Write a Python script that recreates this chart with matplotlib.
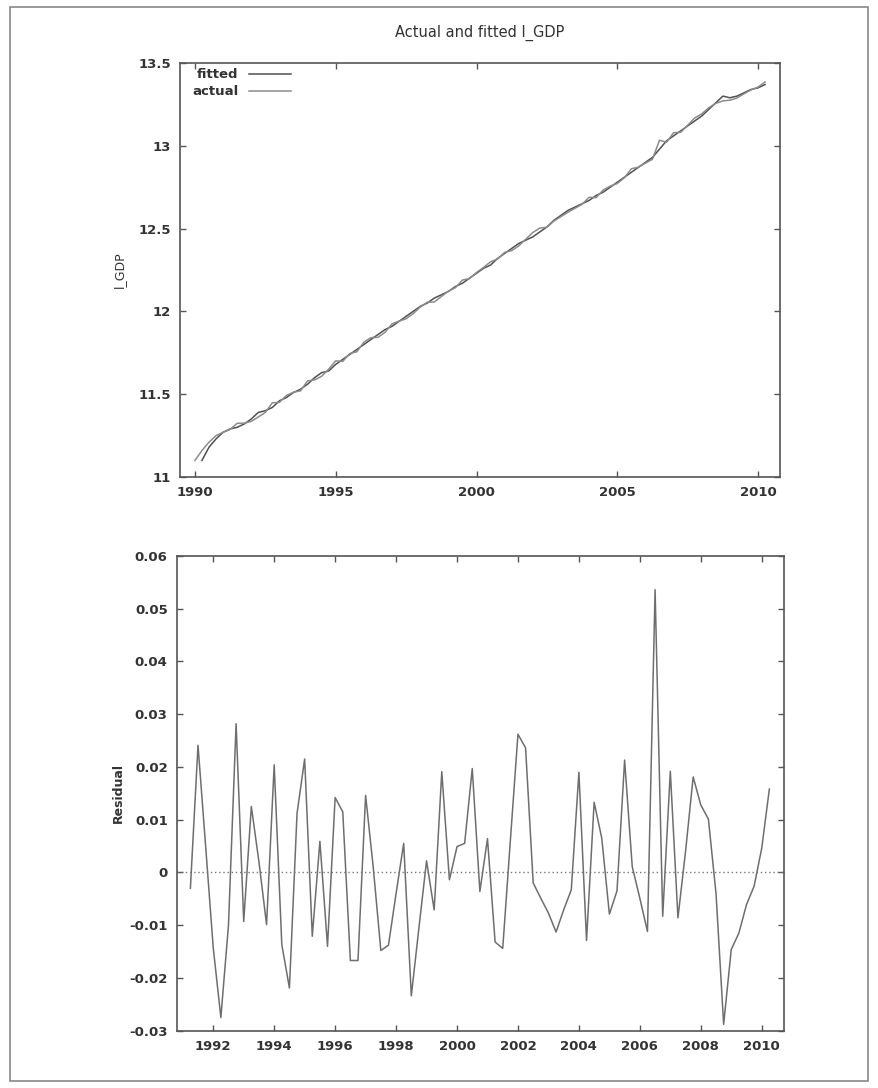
import numpy as np
import matplotlib.pyplot as plt
from matplotlib.patches import Rectangle
from matplotlib.ticker import FuncFormatter

# log GDP before the estimation sample, 1990:1 - 1991:1
actual_early = [11.10, 11.16, 11.21, 11.25, 11.27]
actual_early_start = 1990.0

# fitted values before the estimation sample, 1990:2 - 1991:1
fitted_early = [11.10, 11.18, 11.23, 11.27]
fitted_early_start = 1990.25

# fitted l_GDP over the estimation sample, 1991:2 - 2010:2
fitted_main = [
    11.29, 11.30, 11.32,
    11.35, 11.39, 11.40, 11.42,
    11.46, 11.48, 11.51, 11.53,
    11.56, 11.60, 11.63, 11.64,
    11.68, 11.71, 11.74, 11.77,
    11.80, 11.83, 11.86, 11.89,
    11.91, 11.94, 11.97, 12.00,
    12.03, 12.05, 12.08, 12.10,
    12.12, 12.15, 12.17, 12.20,
    12.23, 12.26, 12.28, 12.32,
    12.35, 12.38, 12.41, 12.43,
    12.45, 12.48, 12.51, 12.55,
    12.58, 12.61, 12.63, 12.65,
    12.67, 12.70, 12.72, 12.75,
    12.78, 12.81, 12.84, 12.87,
    12.90, 12.93, 12.98, 13.03,
    13.06, 13.09, 13.12, 13.15,
    13.18, 13.22, 13.26, 13.30,
    13.29, 13.30, 13.32, 13.34,
    13.35, 13.37,
]

# regression residuals, 1991:2 - 2010:2
residual = [
    -0.0030, 0.0241, 0.0050,
    -0.0143, -0.0275, -0.0100, 0.0282,
    -0.0093, 0.0125, 0.0020, -0.0099,
    0.0204, -0.0137, -0.0219, 0.0112,
    0.0215, -0.0121, 0.0059, -0.0140,
    0.0142, 0.0115, -0.0167, -0.0167,
    0.0146, 0.0010, -0.0148, -0.0138,
    -0.0040, 0.0055, -0.0234, -0.0105,
    0.0022, -0.0071, 0.0191, -0.0014,
    0.0049, 0.0055, 0.0197, -0.0036,
    0.0064, -0.0132, -0.0144, 0.0060,
    0.0262, 0.0236, -0.0020, -0.0049,
    -0.0077, -0.0113, -0.0071, -0.0033,
    0.0190, -0.0129, 0.0133, 0.0065,
    -0.0079, -0.0035, 0.0213, 0.0011,
    -0.0049, -0.0112, 0.0536, -0.0083,
    0.0192, -0.0086, 0.0040, 0.0181,
    0.0128, 0.0101, -0.0040, -0.0288,
    -0.0146, -0.0115, -0.0061, -0.0026,
    0.0046, 0.0158,
]
residual_start = 1991.25

t_resid = residual_start + np.arange(len(residual)) / 4
t_act_early = actual_early_start + np.arange(len(actual_early)) / 4
t_fit_early = fitted_early_start + np.arange(len(fitted_early)) / 4

# actual = fitted + residual inside the sample
actual_main = np.array(fitted_main) + np.array(residual)
t_actual = np.concatenate([t_act_early, t_resid])
actual = np.concatenate([actual_early, actual_main])
t_fitted = np.concatenate([t_fit_early, t_resid])
fitted = np.concatenate([fitted_early, fitted_main])

plt.rcParams['font.family'] = 'DejaVu Sans'
edge = '#555555'
text_c = '#333333'
tick_fs = 9.5

fig = plt.figure(figsize=(8.79, 10.88), dpi=100)
fig.patches.append(Rectangle((0.011, 0.006), 0.977, 0.988, transform=fig.transFigure,
                             fill=False, edgecolor='#888888', linewidth=1.2))


def style_axes(ax):
    for s in ax.spines.values():
        s.set_color(edge)
        s.set_linewidth(1.2)
    ax.tick_params(direction='in', length=4, width=1, color=edge,
                   top=True, right=True, labelsize=tick_fs, pad=6.5)
    for lab in ax.get_xticklabels() + ax.get_yticklabels():
        lab.set_fontweight('bold')
        lab.set_color(text_c)


# upper panel: actual and fitted
ax1 = fig.add_axes([0.2048, 0.5616, 0.6826, 0.3805])
ax1.plot(t_fitted, fitted, color='#505050', linewidth=1.1, label='fitted')
ax1.plot(t_actual, actual, color='#8c8c8c', linewidth=1.1, label='actual')
ax1.set_xlim(1989.47, 2010.78)
ax1.set_ylim(11, 13.5)
ax1.set_xticks([1990, 1995, 2000, 2005, 2010])
ax1.set_yticks([11, 11.5, 12, 12.5, 13, 13.5])
ax1.yaxis.set_major_formatter(FuncFormatter(lambda v, p: '%g' % v))
style_axes(ax1)
ax1.set_ylabel('l_GDP', fontsize=9, color=text_c, labelpad=9)
ax1.set_title('Actual and fitted l_GDP', fontsize=10.5, color=text_c, pad=19)
leg = ax1.legend(loc='upper left', frameon=False, markerfirst=False, fontsize=9.5,
                 handlelength=3.2, handletextpad=0.8, labelspacing=0.3,
                 bbox_to_anchor=(0.0, 1.016))
for txt in leg.get_texts():
    txt.set_fontweight('bold')
    txt.set_color(text_c)

# lower panel: residuals
ax2 = fig.add_axes([0.2010, 0.0527, 0.6909, 0.4363])
ax2.plot(t_resid, residual, color='#6e6e6e', linewidth=1.1)
ax2.axhline(0, color='#777777', linewidth=1, linestyle=(0, (1, 2)))
ax2.set_xlim(1990.80, 2010.73)
ax2.set_ylim(-0.03, 0.06)
ax2.set_xticks(np.arange(1992, 2011, 2))
ax2.set_yticks(np.arange(-0.03, 0.061, 0.01))
ax2.yaxis.set_major_formatter(FuncFormatter(lambda v, p: '%g' % round(v, 3)))
style_axes(ax2)
ax2.set_ylabel('Residual', fontsize=9, fontweight='bold', color=text_c, labelpad=3)

fig.savefig('out.png', dpi=100)
